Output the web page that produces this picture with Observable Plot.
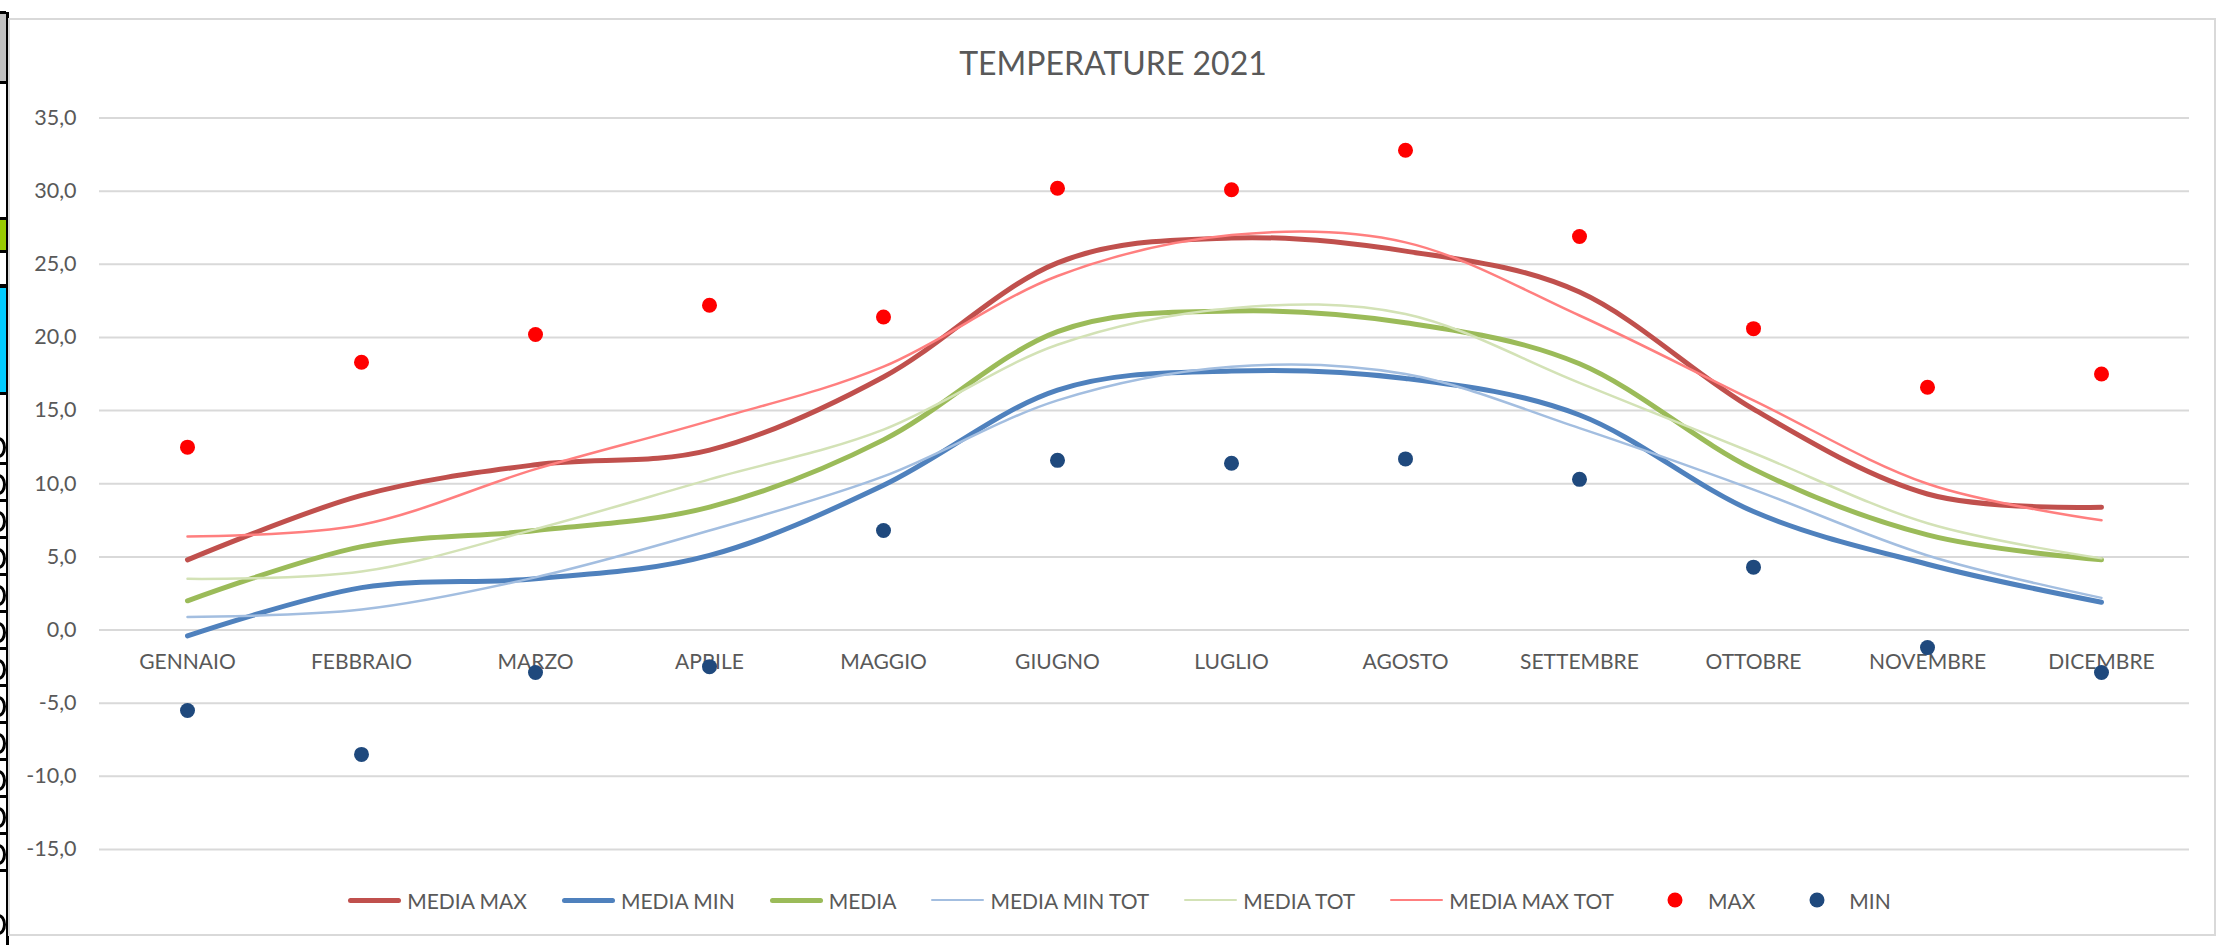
<!DOCTYPE html>
<html>
<head>
<meta charset="utf-8">
<script src="https://cdn.jsdelivr.net/npm/d3@7"></script>
<script src="https://cdn.jsdelivr.net/npm/@observablehq/plot@0.6"></script>
<style>
  html, body { margin: 0; padding: 0; background: #fff; }
  #wrap { position: relative; width: 2219px; height: 945px; overflow: hidden; font-family: Lato, "Open Sans", sans-serif; }
  #frame { position: absolute; left: 8px; top: 18px; width: 2208px; height: 918px; border: 2px solid #d9d9d9; box-sizing: border-box; }
  #title { position: absolute; left: 8px; width: 2210px; top: 43px; text-align: center; font-size: 32px; color: #595959; line-height: 40px; }
  #chart { position: absolute; left: 0; top: 0; }
  #legend { position: absolute; left: 14px; width: 2210px; top: 882px; height: 36px; display: flex; justify-content: center; align-items: center; font-size: 21px; color: #595959; }
  .item { display: flex; align-items: center; margin: 0 17px; }
  .sw { width: 55px; height: 20px; position: relative; margin-right: 5px; }
  .sw .ln { position: absolute; left: 1px; right: 1px; top: 50%; border-radius: 3px; }
  .sw .dt { position: absolute; left: 50%; top: 50%; width: 15px; height: 15px; border-radius: 50%; transform: translate(-50%, -50%); }
  #strip { position: absolute; left: 0; top: 0; width: 8px; height: 945px; }
  .blk { position: absolute; left: 0; width: 6px; }
  .cell { position: absolute; left: 0; width: 6px; height: 34px; overflow: hidden; border-bottom: 3px solid #000; }
  .cell i { position: absolute; left: -9px; top: 9px; width: 9px; height: 15px; border: 3px solid #000; border-radius: 50%; }
</style>
</head>
<body>
<div id="wrap">
  <div id="strip"></div>
  <div id="frame"></div>
  <div id="title">TEMPERATURE 2021</div>
  <div id="chart"></div>
  <div id="legend"></div>
</div>
<script>
// ---- Data ----
const months = ["GENNAIO","FEBBRAIO","MARZO","APRILE","MAGGIO","GIUGNO","LUGLIO","AGOSTO","SETTEMBRE","OTTOBRE","NOVEMBRE","DICEMBRE"];
const mediaMax    = [4.8, 9.2, 11.3, 12.3, 17.3, 25.1, 26.8, 25.9, 23.1, 15.1, 9.3, 8.4];
const mediaMin    = [-0.4, 2.9, 3.5, 5.1, 9.9, 16.4, 17.7, 17.2, 14.7, 8.1, 4.5, 1.9];
const media       = [2.0, 5.7, 6.8, 8.4, 13.0, 20.4, 21.8, 21.0, 18.2, 11.0, 6.5, 4.8];
const mediaMinTot = [0.9, 1.4, 3.6, 6.8, 10.5, 15.7, 18.0, 17.5, 13.8, 9.6, 5.1, 2.2];
const mediaTot    = [3.5, 4.0, 6.9, 10.3, 13.7, 19.5, 22.0, 21.6, 16.9, 12.1, 7.3, 4.9];
const mediaMaxTot = [6.4, 7.2, 11.0, 14.3, 18.0, 24.2, 27.0, 26.5, 21.5, 15.7, 10.0, 7.5];
const maxVals     = [12.5, 18.3, 20.2, 22.2, 21.4, 30.2, 30.1, 32.8, 26.9, 20.6, 16.6, 17.5];
const minVals     = [-5.5, -8.5, -2.9, -2.5, 6.8, 11.6, 11.4, 11.7, 10.3, 4.3, -1.2, -2.9];
const yTicks      = [-15, -10, -5, 0, 5, 10, 15, 20, 25, 30, 35];
const seriesNames = ["MEDIA MAX","MEDIA MIN","MEDIA","MEDIA MIN TOT","MEDIA TOT","MEDIA MAX TOT","MAX","MIN"];

// ---- Styles ----
const lineSeries = [
  {name: "MEDIA MAX",     values: mediaMax,    color: "#C0504D", width: 5},
  {name: "MEDIA MIN",     values: mediaMin,    color: "#4F81BD", width: 5},
  {name: "MEDIA",         values: media,       color: "#9BBB59", width: 5},
  {name: "MEDIA MIN TOT", values: mediaMinTot, color: "#A3BEE0", width: 2.5},
  {name: "MEDIA TOT",     values: mediaTot,    color: "#D3E2B6", width: 2.5},
  {name: "MEDIA MAX TOT", values: mediaMaxTot, color: "#FF7F7F", width: 2.5}
];
const dotSeries = [
  {name: "MAX", values: maxVals, color: "#FF0000"},
  {name: "MIN", values: minVals, color: "#1F497D"}
];

const rows = s => months.map((m, i) => ({month: m, value: s.values[i]}));

const marks = [
  Plot.ruleY(yTicks, {stroke: "#d9d9d9", strokeWidth: 2}),
  Plot.axisY({ticks: yTicks, tickSize: 0, tickPadding: 23, label: null, tickFormat: d => d.toFixed(1).replace(".", ","), fontSize: 21.5}),
  Plot.text(months, {x: d => d, y: d => 0, dy: 32, fontSize: 21, fill: "#595959", textAnchor: "middle", lineAnchor: "middle"})
];
for (const s of lineSeries) {
  marks.push(Plot.line(rows(s), {x: "month", y: "value", curve: "cardinal", stroke: s.color, strokeWidth: s.width, strokeLinecap: "round", strokeLinejoin: "round"}));
}
for (const s of dotSeries) {
  marks.push(Plot.dot(rows(s), {x: "month", y: "value", r: 7.5, fill: s.color, stroke: "none"}));
}

const chart = Plot.plot({
  width: 2219,
  height: 945,
  marginTop: 117.5,
  marginBottom: 96,
  marginLeft: 99,
  marginRight: 30,
  x: {type: "point", domain: months, padding: 0.5, axis: null},
  y: {domain: [-15, 35], axis: null},
  style: {fontFamily: "Lato, 'Open Sans', sans-serif", color: "#595959", background: "transparent", overflow: "visible"},
  marks
});
document.getElementById("chart").appendChild(chart);

// ---- Legend ----
const legend = document.getElementById("legend");
for (const name of seriesNames) {
  const item = document.createElement("div");
  item.className = "item";
  const sw = document.createElement("div");
  sw.className = "sw";
  const ls = lineSeries.find(s => s.name === name);
  if (ls) {
    const ln = document.createElement("div");
    ln.className = "ln";
    ln.style.height = ls.width + "px";
    ln.style.marginTop = (-ls.width / 2) + "px";
    ln.style.background = ls.color;
    sw.appendChild(ln);
  } else {
    const ds = dotSeries.find(s => s.name === name);
    const dt = document.createElement("div");
    dt.className = "dt";
    dt.style.background = ds.color;
    sw.appendChild(dt);
  }
  const lab = document.createElement("span");
  lab.textContent = name;
  item.appendChild(sw);
  item.appendChild(lab);
  legend.appendChild(item);
}

// ---- spreadsheet remnants at the left edge (drawn shapes, not text) ----
const strip = document.getElementById("strip");
function blk(top, h, bg) {
  const d = document.createElement("div");
  d.className = "blk";
  d.style.top = top + "px"; d.style.height = h + "px"; d.style.background = bg;
  strip.appendChild(d);
}
blk(0, 945, "#fff");
const vline = document.createElement("div");
vline.style.cssText = "position:absolute;left:6px;top:12px;width:3px;height:933px;background:#000";
strip.appendChild(vline);
blk(11, 3, "#000"); blk(14, 67, "#c0c0c0"); blk(81, 3, "#000");
blk(217, 3, "#000"); blk(220, 30, "#99cc00"); blk(250, 3, "#000");
blk(284, 4, "#000"); blk(288, 104, "#00ccff"); blk(392, 3, "#000");
for (let y = 428; y < 866; y += 37) {
  const c = document.createElement("div");
  c.className = "cell"; c.style.top = y + "px";
  c.appendChild(document.createElement("i"));
  strip.appendChild(c);
}
const c2 = document.createElement("div");
c2.className = "cell"; c2.style.top = "905px"; c2.style.borderBottom = "none";
c2.appendChild(document.createElement("i"));
strip.appendChild(c2);
</script>
</body>
</html>
